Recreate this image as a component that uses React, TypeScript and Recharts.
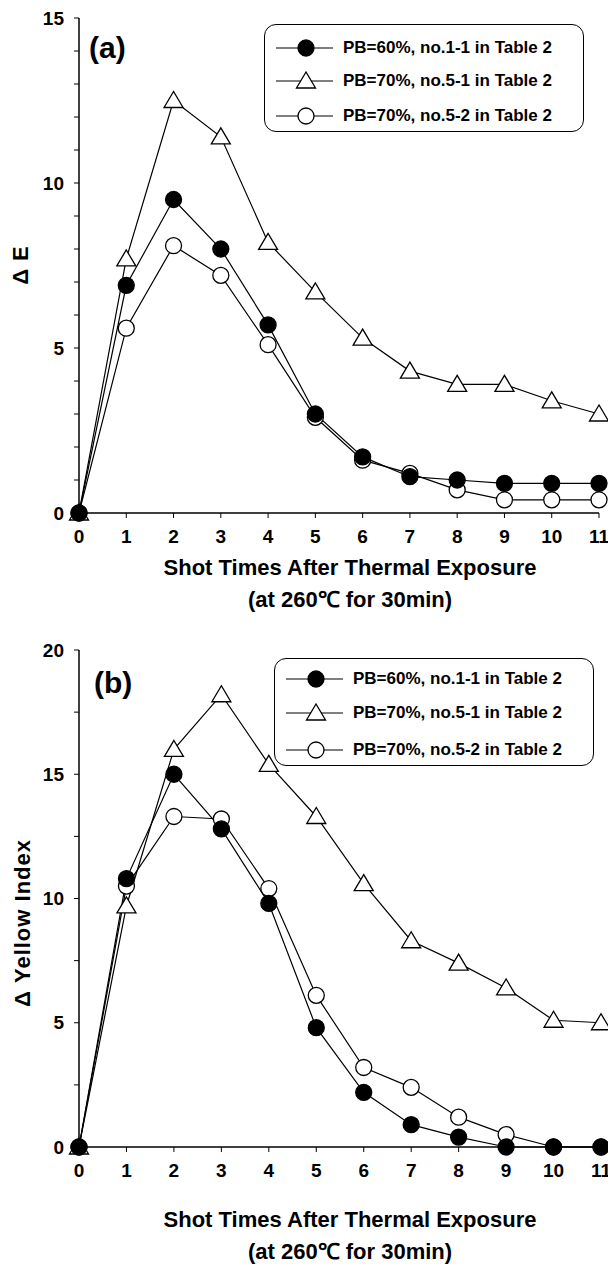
import React from "react";
import { LineChart, Line, XAxis, YAxis } from "recharts";

// shot number after thermal exposure
const shots = [0, 1, 2, 3, 4, 5, 6, 7, 8, 9, 10, 11];

// (a) colour difference
const dE_pb60_1_1 = [0, 6.9, 9.5, 8.0, 5.7, 3.0, 1.7, 1.1, 1.0, 0.9, 0.9, 0.9];
const dE_pb70_5_1 = [0, 7.7, 12.5, 11.4, 8.2, 6.7, 5.3, 4.3, 3.9, 3.9, 3.4, 3.0];
const dE_pb70_5_2 = [0, 5.6, 8.1, 7.2, 5.1, 2.9, 1.6, 1.2, 0.7, 0.4, 0.4, 0.4];

// (b) yellow index
const yi_pb60_1_1 = [0, 10.8, 15.0, 12.8, 9.8, 4.8, 2.2, 0.9, 0.4, 0, 0, 0];
const yi_pb70_5_1 = [0, 9.7, 16.0, 18.2, 15.4, 13.3, 10.6, 8.3, 7.4, 6.4, 5.1, 5.0];
const yi_pb70_5_2 = [0, 10.5, 13.3, 13.2, 10.4, 6.1, 3.2, 2.4, 1.2, 0.5, 0, 0];

const seriesNames = [
  "PB=60%, no.1-1 in Table 2",
  "PB=70%, no.5-1 in Table 2",
  "PB=70%, no.5-2 in Table 2",
];
const markerKinds = ["filled", "triangle", "open"];

const yTicksA = [0, 1, 2, 3, 4, 5, 6, 7, 8, 9, 10, 11, 12, 13, 14, 15];
const yTicksB = [0, 2.5, 5, 7.5, 10, 12.5, 15, 17.5, 20];

const FONT = "'Liberation Sans', Arial, sans-serif";

const toRows = (a: number[], b: number[], c: number[]) =>
  shots.map((x, i) => ({ x, s0: a[i], s1: b[i], s2: c[i] }));

const dataA = toRows(dE_pb60_1_1, dE_pb70_5_1, dE_pb70_5_2);
const dataB = toRows(yi_pb60_1_1, yi_pb70_5_1, yi_pb70_5_2);

function Marker({ kind, cx, cy }: { kind: string; cx: number; cy: number }) {
  if (kind === "triangle") {
    const pts = `${cx},${cy - 9} ${cx - 9.5},${cy + 7} ${cx + 9.5},${cy + 7}`;
    return <polygon points={pts} fill="#fff" stroke="#000" strokeWidth={1.3} />;
  }
  return (
    <circle
      cx={cx}
      cy={cy}
      r={8}
      fill={kind === "filled" ? "#000" : "#fff"}
      stroke="#000"
      strokeWidth={1.3}
    />
  );
}

const dotFor = (kind: string) => (p: any) =>
  <Marker key={`${kind}-${p.index}`} kind={kind} cx={p.cx} cy={p.cy} />;

const tickStyle = { fill: "#000", fontSize: 19, fontWeight: 700, fontFamily: FONT };
const axisLine = { stroke: "#000", strokeWidth: 1.5 };

function LegendBox({ left, top, rows }: { left: number; top: number; rows: number[] }) {
  return (
    <div
      style={{
        position: "absolute",
        left,
        top,
        width: 318,
        height: 106,
        border: "1.5px solid #000",
        borderRadius: 12,
        background: "#fff",
      }}
    >
      {seriesNames.map((name, i) => (
        <div
          key={name}
          style={{ position: "absolute", left: 10, top: rows[i] - 11, height: 22, display: "flex", alignItems: "center" }}
        >
          <svg width={60} height={22}>
            <line x1={1} y1={11} x2={58} y2={11} stroke="#000" strokeWidth={1.2} />
            <Marker kind={markerKinds[i]} cx={31} cy={11} />
          </svg>
          <span style={{ marginLeft: 8, fontSize: 17, fontWeight: 700, whiteSpace: "nowrap" }}>{name}</span>
        </div>
      ))}
    </div>
  );
}

function Panel(props: {
  top: number;
  data: any[];
  yMax: number;
  yTicks: number[];
  rightMargin: number;
  plotHeight: number;
}) {
  const { top, data, yMax, yTicks, rightMargin, plotHeight } = props;
  return (
    <div style={{ position: "absolute", left: 0, top }}>
      <LineChart
        width={608}
        height={18 + plotHeight + 40}
        data={data}
        margin={{ top: 18, right: rightMargin, bottom: 0, left: 0 }}
      >
        <XAxis
          dataKey="x"
          type="number"
          domain={[0, 11]}
          ticks={shots}
          interval={0}
          tick={tickStyle}
          tickSize={5}
          tickMargin={12}
          height={40}
          axisLine={axisLine}
          tickLine={{ stroke: "#000" }}
        />
        <XAxis xAxisId="top" dataKey="x" type="number" domain={[0, 11]} orientation="top" tick={false} tickLine={false} height={0} axisLine={axisLine} />
        <YAxis
          yAxisId="left"
          type="number"
          domain={[0, yMax]}
          ticks={yTicks}
          interval={0}
          width={79}
          tick={tickStyle}
          tickSize={5}
          tickMargin={10}
          tickFormatter={(v: number) => (v % 5 === 0 ? String(v) : "")}
          axisLine={axisLine}
          tickLine={{ stroke: "#000" }}
        />
        <YAxis yAxisId="right" orientation="right" domain={[0, yMax]} tick={false} tickLine={false} width={0} axisLine={axisLine} />
        <Line yAxisId="left" dataKey="s1" stroke="#000" strokeWidth={1.2} dot={dotFor("triangle")} isAnimationActive={false} />
        <Line yAxisId="left" dataKey="s2" stroke="#000" strokeWidth={1.2} dot={dotFor("open")} isAnimationActive={false} />
        <Line yAxisId="left" dataKey="s0" stroke="#000" strokeWidth={1.2} dot={dotFor("filled")} isAnimationActive={false} />
      </LineChart>
    </div>
  );
}

const titleStyle: React.CSSProperties = {
  position: "absolute",
  left: 100,
  width: 500,
  textAlign: "center",
  fontSize: 22,
  fontWeight: 700,
  lineHeight: "26px",
  whiteSpace: "nowrap",
};

const yLabelStyle = (cx: number, cy: number): React.CSSProperties => ({
  position: "absolute",
  left: cx - 100,
  top: cy - 13,
  width: 200,
  height: 26,
  lineHeight: "26px",
  textAlign: "center",
  fontSize: 22,
  fontWeight: 700,
  letterSpacing: 1,
  transform: "rotate(-90deg)",
  whiteSpace: "nowrap",
});

export default function App() {
  return (
    <div
      style={{
        position: "absolute",
        left: 0,
        top: 0,
        width: 608,
        height: 1264,
        background: "#fff",
        fontFamily: FONT,
        color: "#000",
        overflow: "hidden",
      }}
    >
      <Panel top={0} data={dataA} yMax={15} yTicks={yTicksA} rightMargin={9} plotHeight={495} />
      <div style={{ position: "absolute", left: 89, top: 30, fontSize: 30, fontWeight: 700, lineHeight: "36px" }}>(a)</div>
      <div style={yLabelStyle(21, 265)}>Δ E</div>
      <LegendBox left={264} top={24} rows={[23, 56, 91]} />
      <div style={{ ...titleStyle, top: 555 }}>Shot Times After Thermal Exposure</div>
      <div style={{ ...titleStyle, top: 587 }}>(at 260℃ for 30min)</div>

      <Panel top={632} data={dataB} yMax={20} yTicks={yTicksB} rightMargin={7} plotHeight={497} />
      <div style={{ position: "absolute", left: 94, top: 665, fontSize: 30, fontWeight: 700, lineHeight: "36px" }}>(b)</div>
      <div style={yLabelStyle(23, 923)}>Δ Yellow Index</div>
      <LegendBox left={274} top={658} rows={[20, 54, 91]} />
      <div style={{ ...titleStyle, top: 1207 }}>Shot Times After Thermal Exposure</div>
      <div style={{ ...titleStyle, top: 1239 }}>(at 260℃ for 30min)</div>
    </div>
  );
}
